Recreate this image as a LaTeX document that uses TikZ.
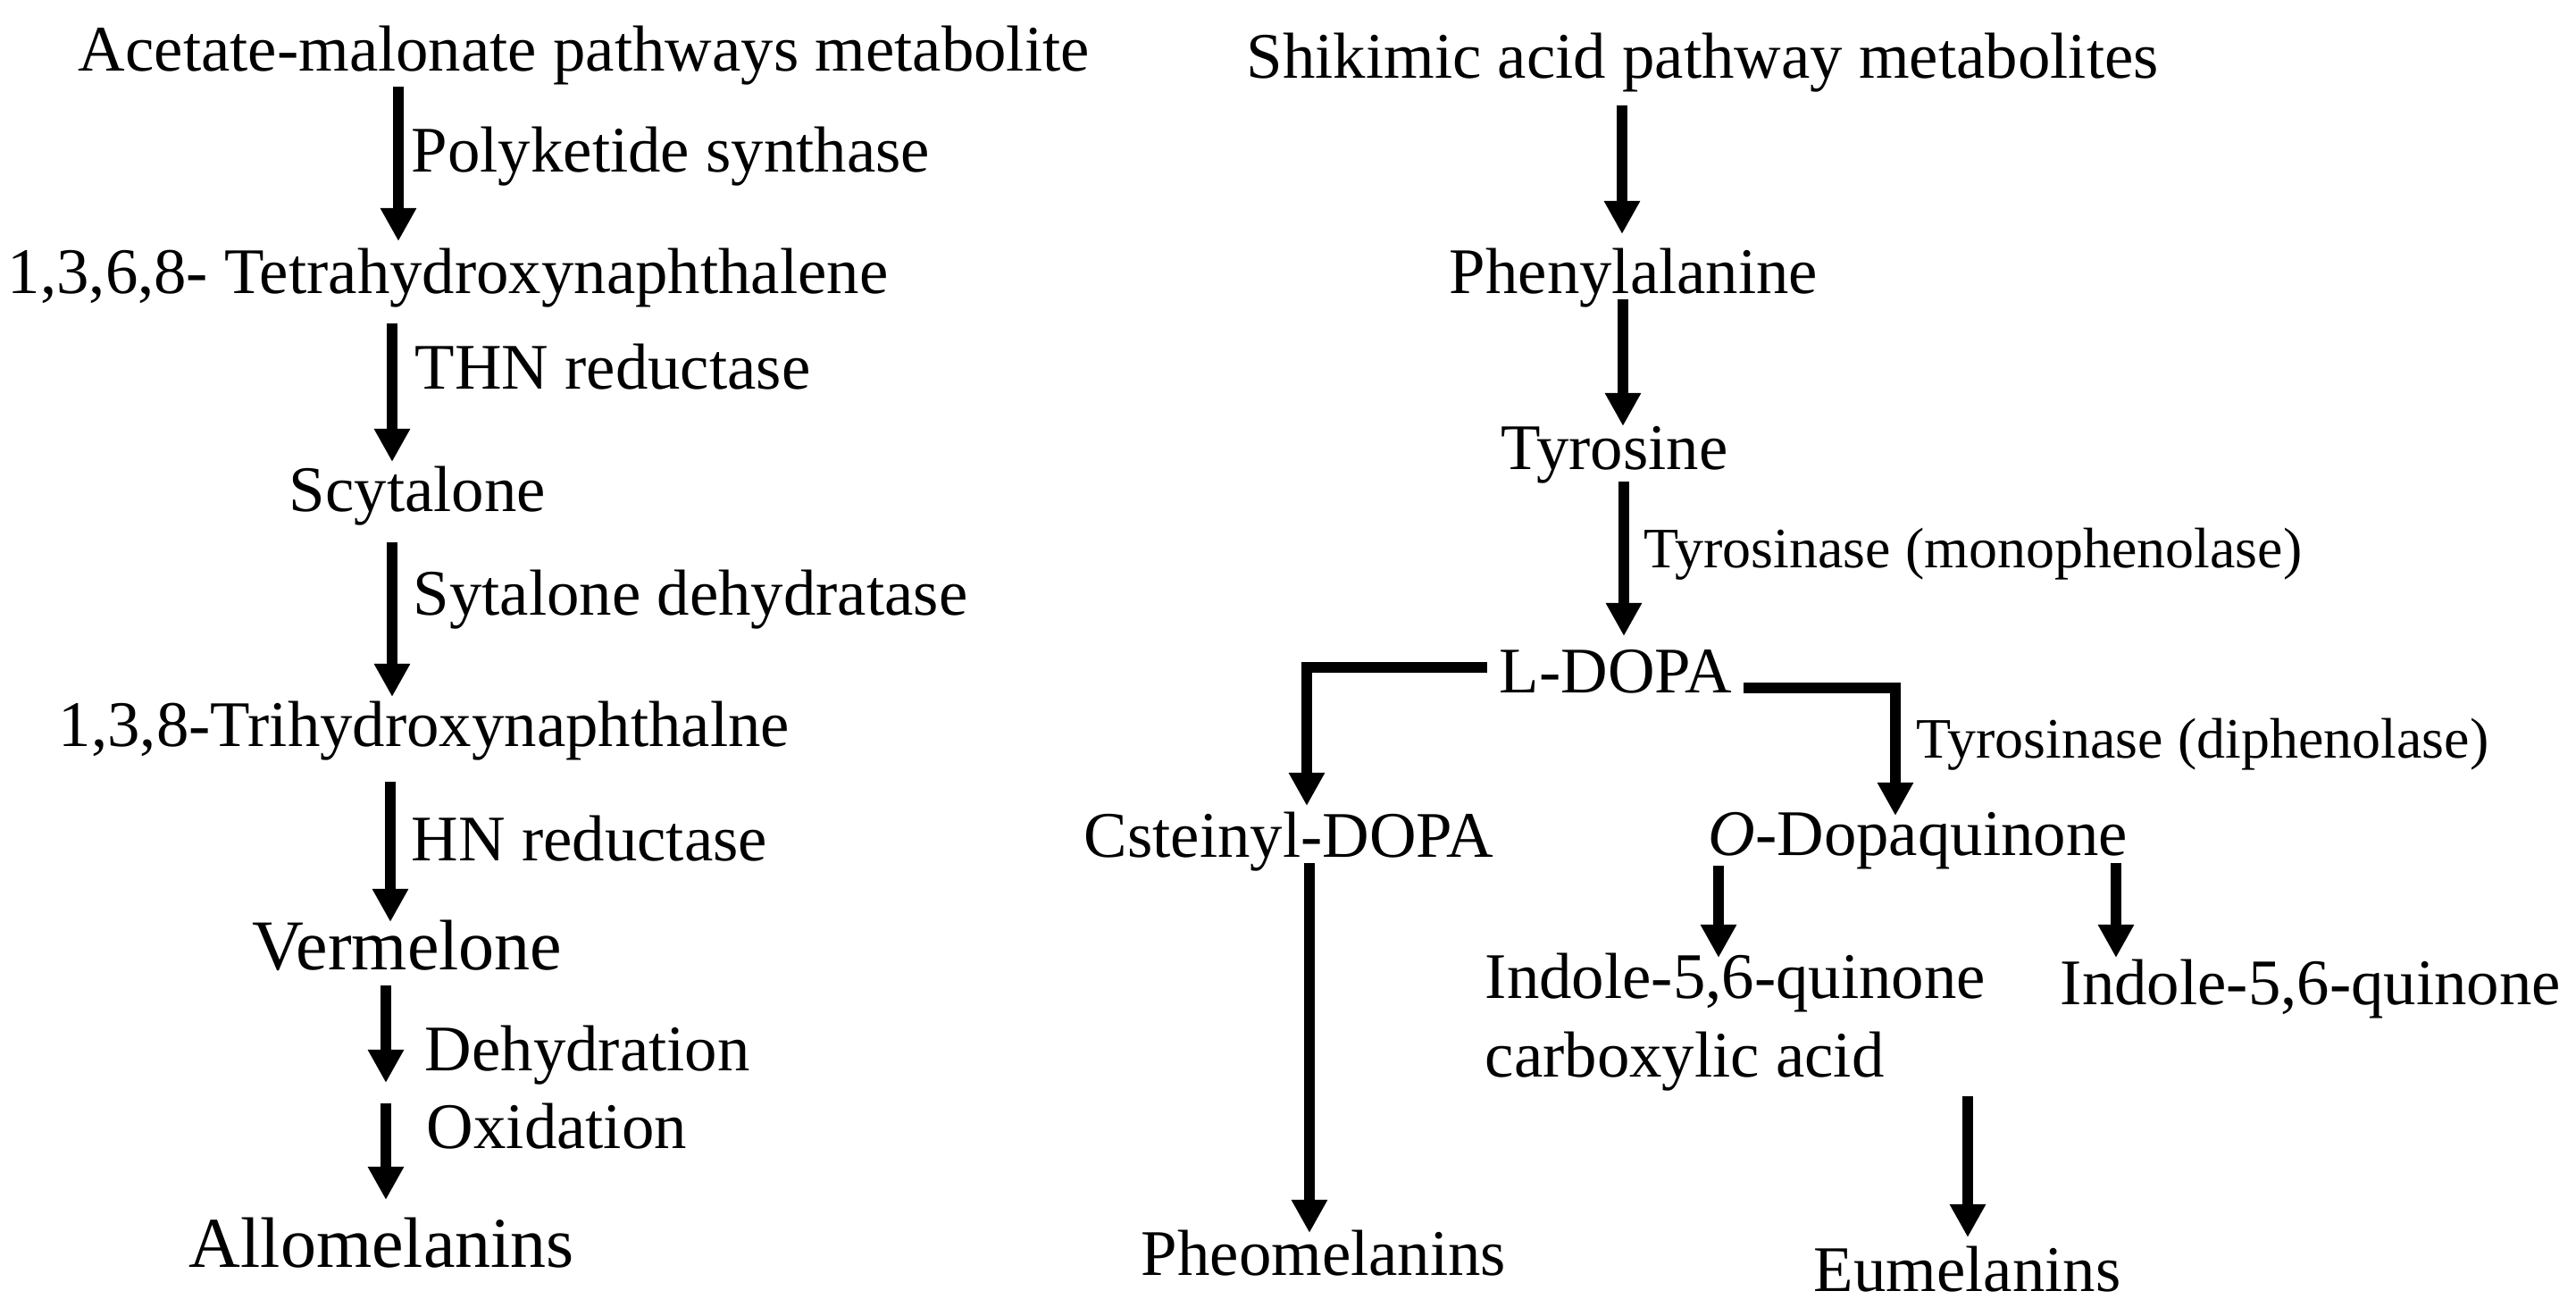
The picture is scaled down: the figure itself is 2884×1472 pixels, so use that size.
\documentclass[tikz,border=0pt]{standalone}
\usepackage{fontspec}
\setmainfont{Liberation Serif}
\usetikzlibrary{arrows.meta}
\begin{document}
\begin{tikzpicture}[x=0.25pt,y=-0.25pt,
  lbl/.style={anchor=base west, inner sep=0pt, font=\fontsize{18.2}{22}\selectfont},
  sml/.style={anchor=base west, inner sep=0pt, font=\fontsize{16}{19}\selectfont},
  big/.style={anchor=base west, inner sep=0pt, font=\fontsize{20}{24}\selectfont},
  arr/.style={line width=3.1pt, -{Triangle[width=9.5pt,length=9.3pt]}},
  bar/.style={line width=3.1pt},
  ]
\useasboundingbox (0,0) rectangle (2884,1472);
% ---------- left column ----------
\node[lbl] (acet)  at (87,79)   {Acetate-malonate pathways metabolite};
\node[lbl] (poly)  at (460,192) {Polyketide synthase};
\node[lbl] (thn)   at (8,328)   {1,3,6,8- Tetrahydroxynaphthalene};
\node[lbl] (thnr)  at (464,435) {THN reductase};
\node[lbl] (scy)   at (323,572) {Scytalone};
\node[lbl] (sdh)   at (462,688) {Sytalone dehydratase};
\node[lbl] (trihn) at (65,835)  {1,3,8-Trihydroxynaphthalne};
\node[lbl] (hnr)   at (460,963) {HN reductase};
\node[big] (ver)   at (282,1085) {Vermelone};
\node[lbl] (dehy)  at (475,1198) {Dehydration};
\node[lbl] (oxi)   at (477,1285) {Oxidation};
\node[big] (allo)  at (211,1418) {Allomelanins};
% arrow end points
\coordinate (a1s) at (446,97);   \coordinate (a1e) at (446,270);
\coordinate (a2s) at (439,362);  \coordinate (a2e) at (439,517);
\coordinate (a3s) at (439,607);  \coordinate (a3e) at (439,780);
\coordinate (a4s) at (437,875);  \coordinate (a4e) at (437,1032);
\coordinate (a5s) at (432,1103); \coordinate (a5e) at (432,1212);
\coordinate (a6s) at (432,1235); \coordinate (a6e) at (432,1343);
\draw[arr] (a1s) -- (a1e);
\draw[arr] (a2s) -- (a2e);
\draw[arr] (a3s) -- (a3e);
\draw[arr] (a4s) -- (a4e);
\draw[arr] (a5s) -- (a5e);
\draw[arr] (a6s) -- (a6e);
% ---------- right column ----------
\node[lbl] (shik)  at (1395,87)  {Shikimic acid pathway metabolites};
\node[lbl] (phe)   at (1622,328) {Phenylalanine};
\node[lbl] (tyr)   at (1680,525) {Tyrosine};
\node[sml] (mono)  at (1840,635) {Tyrosinase (monophenolase)};
\node[lbl] (ldopa) at (1678,775) {L-DOPA};
\node[sml] (diph)  at (2145,848) {Tyrosinase (diphenolase)};
\node[lbl] (cys)   at (1213,959) {Csteinyl-DOPA};
\node[lbl] (odq)   at (1912,957) {\textit{O}-Dopaquinone};
\node[lbl] (ind1)  at (1662,1117) {Indole-5,6-quinone};
\node[lbl] (carb)  at (1662,1205) {carboxylic acid};
\node[lbl] (ind2)  at (2306,1124) {Indole-5,6-quinone};
\node[lbl] (pheo)  at (1277,1427) {Pheomelanins};
\node[lbl] (eum)   at (2030,1445) {Eumelanins};
\coordinate (b1s) at (1816,118); \coordinate (b1e) at (1816,262);
\coordinate (b2s) at (1817,335); \coordinate (b2e) at (1817,477);
\coordinate (b3s) at (1818,539); \coordinate (b3e) at (1818,712);
\draw[arr] (b1s) -- (b1e);
\draw[arr] (b2s) -- (b2e);
\draw[arr] (b3s) -- (b3e);
% L-DOPA branches
\coordinate (lbs) at (1665,747); \coordinate (lbc) at (1463,747); \coordinate (lbe) at (1463,902);
\coordinate (rbs) at (1952,770); \coordinate (rbc) at (2122,770); \coordinate (rbe) at (2122,913);
\draw[arr] (lbs) -- (lbc) -- (lbe);
\draw[arr] (rbs) -- (rbc) -- (rbe);
% lower arrows
\coordinate (c1s) at (1466,966); \coordinate (c1e) at (1466,1380);
\coordinate (c2s) at (1924,969); \coordinate (c2e) at (1924,1072);
\coordinate (c3s) at (2369,966); \coordinate (c3e) at (2369,1072);
\coordinate (c4s) at (2203,1227); \coordinate (c4e) at (2203,1385);
\draw[arr] (c1s) -- (c1e);
\draw[arr] (c2s) -- (c2e);
\draw[arr] (c3s) -- (c3e);
\draw[arr] (c4s) -- (c4e);
\end{tikzpicture}
\end{document}
